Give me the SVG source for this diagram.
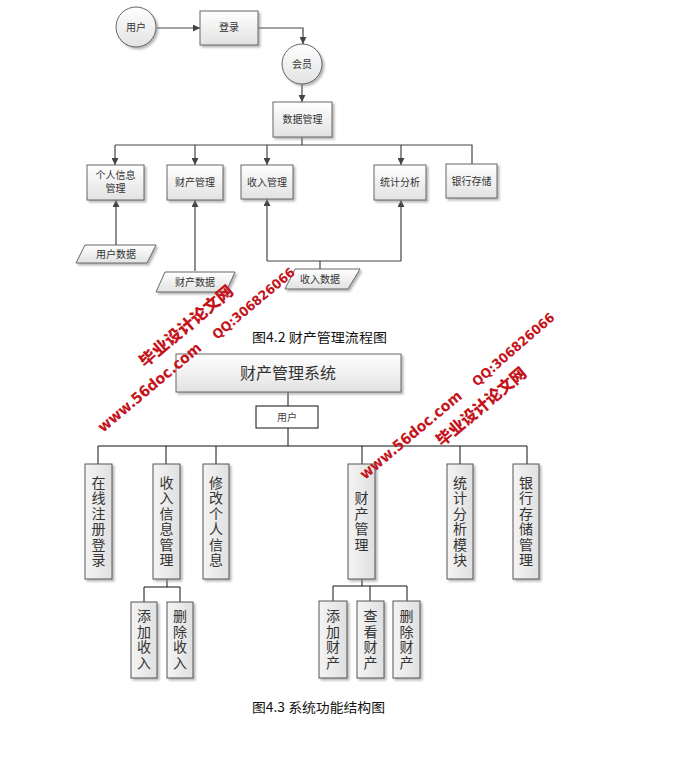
<svg xmlns="http://www.w3.org/2000/svg" width="679" height="767" viewBox="0 0 679 767">
<defs>
<linearGradient id="g" x1="0" y1="0" x2="0" y2="1"><stop offset="0" stop-color="#ffffff"/><stop offset="1" stop-color="#e2e2e2"/></linearGradient>
<linearGradient id="gh" x1="0" y1="0" x2="1" y2="0"><stop offset="0" stop-color="#f4f4f4"/><stop offset="1" stop-color="#e0e0e0"/></linearGradient>
<filter id="sh" x="-20%" y="-20%" width="150%" height="150%"><feDropShadow dx="2" dy="2" stdDeviation="1" flood-color="#888" flood-opacity="0.6"/></filter>
<marker id="ar" viewBox="0 0 10 10" refX="10" refY="5" markerWidth="7" markerHeight="7" orient="auto" markerUnits="userSpaceOnUse"><path d="M0,0 L10,5 L0,10 z" fill="#444"/></marker>
<style>
.n{fill:url(#g);stroke:#666;stroke-width:1;filter:url(#sh)}
.v{fill:url(#gh);stroke:#555;stroke-width:1;filter:url(#sh)}
.t{font-family:"Liberation Serif","Noto Sans CJK SC",serif;font-size:10px;fill:#333;text-anchor:middle}
.tv{font-family:"Noto Sans CJK SC",sans-serif;font-size:14px;fill:#333;text-anchor:middle;writing-mode:vertical-rl;text-orientation:upright;letter-spacing:1.5px}
.c{fill:none;stroke:#444;stroke-width:1.2}
.cb{fill:none;stroke:#111;stroke-width:1}
.cap{font-family:"Noto Sans CJK SC",sans-serif;font-size:13px;fill:#111}
.wm{font-family:"DejaVu Sans","Noto Sans CJK SC",sans-serif;font-weight:bold;fill:#c4141c}
</style>
</defs>
<g id="connectors">
<path class="c" d="M157,28 H200" marker-end="url(#ar)"/>
<path class="c" d="M258,28 H303 V44" marker-end="url(#ar)"/>
<path class="c" d="M302,84 V102" marker-end="url(#ar)"/>
<path class="c" d="M302,137 V145 M115,145 H472 V164"/>
<path class="c" d="M115,145 V165" marker-end="url(#ar)"/>
<path class="c" d="M195,145 V165" marker-end="url(#ar)"/>
<path class="c" d="M267,145 V165" marker-end="url(#ar)"/>
<path class="c" d="M401,145 V165" marker-end="url(#ar)"/>
<path class="c" d="M116,245 V200" marker-end="url(#ar)"/>
<path class="c" d="M195,271 V200" marker-end="url(#ar)"/>
<path class="c" d="M320,269 V261 M267,261 H401"/>
<path class="c" d="M267,261 V199" marker-end="url(#ar)"/>
<path class="c" d="M401,261 V200" marker-end="url(#ar)"/>
<path class="cb" d="M288,392 V406 M288,428 V446 M98,446 H527 M98,446 V464 M166,446 V464 M216,446 V464 M362,446 V464 M460,446 V464 M527,446 V464"/>
<path class="cb" d="M167,579 V587 M144,587 H180 M144,587 V602 M180,587 V602"/>
<path class="cb" d="M362,579 V586 M333,586 H407 M333,586 V601 M370,586 V601 M407,586 V601"/>
</g>
<g id="n-user"><circle class="n" cx="136" cy="27" r="20"/><text class="t" x="136" y="31">用户</text></g>
<g id="n-login"><rect class="n" x="200" y="11" width="58" height="34"/><text class="t" x="229" y="31">登录</text></g>
<g id="n-member"><circle class="n" cx="302" cy="64" r="20"/><text class="t" x="302" y="68">会员</text></g>
<g id="n-data"><rect class="n" x="273" y="102" width="59" height="35"/><text class="t" x="302.5" y="123">数据管理</text></g>
<g id="n-personal"><rect class="n" x="87" y="165" width="57" height="35"/><text class="t" x="115.5" y="179">个人信息</text><text class="t" x="115.5" y="192">管理</text></g>
<g id="n-asset"><rect class="n" x="167" y="165" width="56" height="35"/><text class="t" x="195" y="186">财产管理</text></g>
<g id="n-income"><rect class="n" x="241" y="165" width="52" height="34"/><text class="t" x="267" y="186">收入管理</text></g>
<g id="n-stat"><rect class="n" x="374" y="165" width="52" height="35"/><text class="t" x="400" y="186">统计分析</text></g>
<g id="n-bank"><rect class="n" x="446" y="164" width="51" height="34"/><text class="t" x="471.5" y="185">银行存储</text></g>
<g id="d-user"><polygon class="n" points="85,245 156,245 147,263 76,263"/><text class="t" x="116" y="258">用户数据</text></g>
<g id="d-asset"><polygon class="n" points="165,272 235,272 226,292 156,292"/><text class="t" x="195" y="286">财产数据</text></g>
<g id="d-income"><polygon class="n" points="295,269 360,269 348,289 285,289"/><text class="t" x="320" y="283">收入数据</text></g>
<text class="cap" x="252" y="342" textLength="135" lengthAdjust="spacingAndGlyphs">图4.2  财产管理流程图</text>
<g id="b-system"><rect class="n" x="176" y="354" width="225" height="38"/><text x="288" y="379" style="font-family:'Noto Sans CJK SC',sans-serif;font-size:16px;fill:#333;text-anchor:middle">财产管理系统</text></g>
<g id="b-user"><rect x="256" y="406" width="62" height="22" fill="#fff" stroke="#111"/><text x="287" y="421" style="font-family:'Noto Sans CJK SC',sans-serif;font-size:10px;fill:#444;text-anchor:middle">用户</text></g>
<g id="b-reg"><rect class="v" x="85" y="464" width="27" height="115"/><text class="tv" x="98.5" y="522">在线注册登录</text></g>
<g id="b-income"><rect class="v" x="153" y="464" width="27" height="115"/><text class="tv" x="166.5" y="522">收入信息管理</text></g>
<g id="b-modify"><rect class="v" x="203" y="464" width="26" height="115"/><text class="tv" x="216" y="522">修改个人信息</text></g>
<g id="b-asset"><rect class="v" x="348" y="464" width="27" height="115"/><text class="tv" x="361.5" y="522">财产管理</text></g>
<g id="b-stat"><rect class="v" x="447" y="464" width="26" height="115"/><text class="tv" x="460" y="522">统计分析模块</text></g>
<g id="b-bank"><rect class="v" x="513" y="464" width="26" height="115"/><text class="tv" x="526" y="522">银行存储管理</text></g>
<g id="b-addinc"><rect class="v" x="131" y="602" width="26" height="76"/><text class="tv" x="144" y="640">添加收入</text></g>
<g id="b-delinc"><rect class="v" x="167" y="602" width="26" height="76"/><text class="tv" x="180" y="640">删除收入</text></g>
<g id="b-addast"><rect class="v" x="319" y="601" width="28" height="77"/><text class="tv" x="333" y="640">添加财产</text></g>
<g id="b-viewast"><rect class="v" x="357" y="601" width="27" height="77"/><text class="tv" x="370.5" y="640">查看财产</text></g>
<g id="b-delast"><rect class="v" x="393" y="601" width="27" height="77"/><text class="tv" x="406.5" y="640">删除财产</text></g>
<text class="cap" x="252" y="712" textLength="133" lengthAdjust="spacingAndGlyphs">图4.3  系统功能结构图</text>
<g id="watermarks">
<text class="wm" font-size="15" transform="translate(103,433) rotate(-40)" textLength="130" lengthAdjust="spacingAndGlyphs">www.56doc.com</text>
<text class="wm" font-size="16" transform="translate(145,368) rotate(-40)" textLength="117" lengthAdjust="spacingAndGlyphs" style="font-family:'Noto Sans CJK SC',sans-serif;font-weight:900">毕业设计论文网</text>
<text class="wm" font-size="13" transform="translate(217,340) rotate(-40)" textLength="103" lengthAdjust="spacingAndGlyphs">QQ:306826066</text>
<text class="wm" font-size="15" transform="translate(365,480) rotate(-40)" textLength="128" lengthAdjust="spacingAndGlyphs">www.56doc.com</text>
<text class="wm" font-size="16" transform="translate(442,447) rotate(-40)" textLength="112" lengthAdjust="spacingAndGlyphs" style="font-family:'Noto Sans CJK SC',sans-serif;font-weight:900">毕业设计论文网</text>
<text class="wm" font-size="13" transform="translate(477,387) rotate(-41)" textLength="104" lengthAdjust="spacingAndGlyphs">QQ:306826066</text>
</g>
</svg>
